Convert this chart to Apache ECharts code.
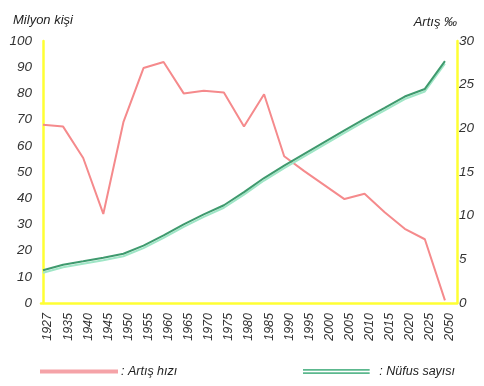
<!DOCTYPE html>
<html><head><meta charset="utf-8">
<script src="https://cdn.jsdelivr.net/npm/echarts@6/dist/echarts.min.js"></script>
<style>html,body{margin:0;padding:0;background:#fff}#c{width:484px;height:386px}</style>
</head><body><div id="c"></div>
<script>
const years = ['1927','1935','1940','1945','1950','1955','1960','1965','1970','1975','1980','1985','1990','1995','2000','2005','2010','2015','2020','2025','2050'];
const artisHizi = [20.4,20.2,16.6,10.2,20.7,26.9,27.6,24.0,24.3,24.1,20.2,23.9,16.8,15.1,13.5,11.9,12.5,10.4,8.5,7.3,0.3];
const nufus = [12.5,14.6,15.9,17.3,18.8,21.9,25.8,30.0,33.8,37.3,42.3,47.7,52.4,56.9,61.4,65.9,70.3,74.5,78.8,81.7,92.3];
const leftTicks = [0,10,20,30,40,50,60,70,80,90,100];
const rightTicks = [0,5,10,15,20,25,30];

const font = 'Liberation Sans';
const yellow = '#ffff33';
const chart = echarts.init(document.getElementById('c'));
chart.setOption({
  animation: false,
  grid: {left: 41, right: 27, top: 41, bottom: 83},
  xAxis: {
    type: 'value', min: -0.1, max: 20.6,
    axisLine: {show: true, lineStyle: {color: yellow, width: 2.5}},
    axisTick: {show: false},
    splitLine: {show: false},
    axisLabel: {
      customValues: years.map((y, i) => i),
      rotate: 90, fontFamily: font, fontStyle: 'italic', fontSize: 12.5, color: '#333', margin: 10,
      verticalAlign: 'top', lineHeight: 10,
      formatter: v => years[Math.round(v)] || ''
    }
  },
  yAxis: [{
    type: 'value', min: 0, max: 100, interval: 10,
    name: 'Milyon kişi', nameLocation: 'end', nameGap: 14,
    nameTextStyle: {fontFamily: font, fontStyle: 'italic', fontSize: 13, color: '#222', align: 'center'},
    axisLine: {show: true, lineStyle: {color: yellow, width: 2.5}},
    axisTick: {show: false}, splitLine: {show: false},
    axisLabel: {customValues: leftTicks, fontFamily: font, fontStyle: 'italic', fontSize: 13.5, color: '#333', margin: 9}
  }, {
    type: 'value', min: 0, max: 30, interval: 5, position: 'right',
    name: 'Artış ‰', nameLocation: 'end', nameGap: 12,
    nameTextStyle: {fontFamily: font, fontStyle: 'italic', fontSize: 13, color: '#222', align: 'right'},
    axisLine: {show: true, lineStyle: {color: yellow, width: 2.5}},
    axisTick: {show: false}, splitLine: {show: false},
    axisLabel: {customValues: rightTicks, fontFamily: font, fontStyle: 'italic', fontSize: 13.5, color: '#333', margin: 2}
  }],
  legend: [{
    data: [{name: 'Artış hızı', icon: 'rect', itemStyle: {color: '#f5a3a8'}}],
    left: 40, top: 365, padding: 0, itemWidth: 78, itemHeight: 4, itemGap: 4,
    formatter: n => ': ' + n,
    textStyle: {fontFamily: font, fontStyle: 'italic', fontSize: 12.5, color: '#222', padding: [0,0,0,-2]}
  }, {
    data: [{name: 'Nüfus sayısı', icon: 'path://M0,0H80V2H0Z M0,4H80V6H0Z', itemStyle: {color: '#5cb88e'}}],
    left: 303, top: 365, padding: 0, itemWidth: 80, itemHeight: 5, itemGap: 4,
    formatter: n => ': ' + n,
    textStyle: {fontFamily: font, fontStyle: 'italic', fontSize: 12.5, color: '#222', padding: [0,0,0,-2]}
  }],
  series: [{
    name: 'Artış hızı', type: 'line', yAxisIndex: 1, symbol: 'none',
    data: artisHizi.map((v, i) => [i, v]),
    lineStyle: {color: '#f58a8c', width: 2},
    itemStyle: {color: '#f5a3a8'}
  }, {
    name: 'Nüfus sayısı', type: 'line', yAxisIndex: 0, symbol: 'none',
    data: nufus.map((v, i) => [i, v]),
    lineStyle: {color: '#3f9a6e', width: 2, shadowColor: '#9fe6c6', shadowBlur: 0, shadowOffsetY: 2.5},
    itemStyle: {color: '#5cb88e'}
  }]
});
</script></body></html>
